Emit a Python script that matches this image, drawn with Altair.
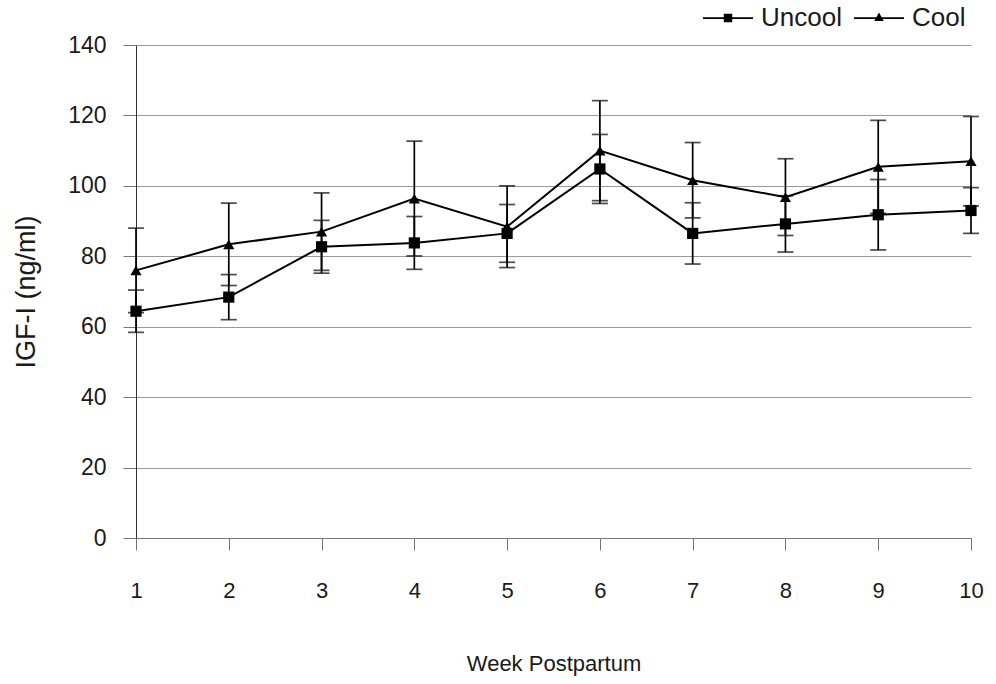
import altair as alt
import pandas as pd

# IGF-I concentration (ng/ml) by week postpartum, mean and error per group
weeks = [1, 2, 3, 4, 5, 6, 7, 8, 9, 10]
uncool_mean = [64.4, 68.4, 82.7, 83.8, 86.5, 104.8, 86.5, 89.2, 91.8, 93.0]
uncool_err = [6.0, 6.4, 7.5, 7.5, 8.2, 9.8, 8.7, 8.0, 10.0, 6.5]
cool_mean = [76.0, 83.4, 87.0, 96.4, 88.4, 110.0, 101.6, 96.8, 105.4, 107.0]
cool_err = [12.0, 11.7, 11.0, 16.3, 11.6, 14.2, 10.7, 10.9, 13.2, 12.7]
groups = ["Uncool", "Cool"]
y_ticks = [0, 20, 40, 60, 80, 100, 120, 140]

rows = []
for g, means, errs in [("Uncool", uncool_mean, uncool_err), ("Cool", cool_mean, cool_err)]:
    for w, m, e in zip(weeks, means, errs):
        rows.append({"week": w, "group": g, "igf": m, "lo": m - e, "hi": m + e})
df = pd.DataFrame(rows)

FONT = "Liberation Sans"
INK = "#1a1a1a"

# legend glyphs: a thin bar (the series line) with the series marker on it
square_glyph = "M-1,-0.035H1V0.035H-1Z M-0.17,-0.17H0.17V0.17H-0.17Z"
triangle_glyph = "M-1,-0.035H1V0.035H-1Z M0,-0.22L0.19,0.12H-0.19Z"

x_enc = alt.X(
    "week:Q",
    scale=alt.Scale(domain=[1, 10], nice=False, zero=False),
    axis=alt.Axis(
        values=weeks, format="d", labelFlush=False, title="Week Postpartum",
        grid=False, tickSize=12, labelPadding=30, titlePadding=52,
        labelFontSize=22, titleFontSize=22, domainColor="#777",
        tickColor="#777", labelColor=INK, titleColor=INK, labelFont=FONT,
        titleFont=FONT, titleFontWeight="normal",
    ),
)
y_scale = alt.Scale(domain=[0, 140], nice=False)
y_axis = alt.Axis(
    values=y_ticks, title="IGF-I (ng/ml)", grid=True, gridColor="#9a9a9a",
    gridWidth=1, tickSize=13, labelPadding=17, titlePadding=27,
    labelFontSize=23, titleFontSize=27, domainColor="#333", tickColor="#777",
    labelColor=INK, titleColor=INK, labelFont=FONT, titleFont=FONT,
    titleFontWeight="normal",
)

base = alt.Chart(df)

lines = base.mark_line(color="black", strokeWidth=2).encode(
    x=x_enc,
    y=alt.Y("igf:Q", scale=y_scale, axis=y_axis),
    detail="group:N",
)

bars = base.mark_rule(color="black", strokeWidth=1.7).encode(
    x="week:Q", y="lo:Q", y2="hi:Q"
)
caps_lo = base.mark_tick(color="black", orient="horizontal", size=16, thickness=1.7).encode(
    x="week:Q", y="lo:Q"
)
caps_hi = base.mark_tick(color="black", orient="horizontal", size=16, thickness=1.7).encode(
    x="week:Q", y="hi:Q"
)

points = base.mark_point(filled=True, size=125, color="black", opacity=1).encode(
    x="week:Q",
    y="igf:Q",
    shape=alt.Shape(
        "group:N",
        scale=alt.Scale(domain=groups, range=["square", "triangle-up"]),
        legend=None,
    ),
)

# key layer: draws nothing itself, only carries the line-and-marker legend
key = base.transform_filter("false").mark_point(filled=True, color="black").encode(
    x="week:Q",
    y="igf:Q",
    shape=alt.Shape(
        "group:N",
        scale=alt.Scale(domain=groups, range=[square_glyph, triangle_glyph]),
        legend=alt.Legend(
            title=None, orient="none", legendX=567, legendY=-52,
            direction="horizontal", symbolSize=2500, symbolStrokeWidth=0,
            symbolFillColor="black", symbolOpacity=1,
            labelFontSize=26, labelFont=FONT, labelColor=INK,
            columnPadding=12, labelOffset=8,
        ),
    ),
)

chart = (
    alt.layer(lines, bars, caps_lo, caps_hi, points, key)
    .resolve_scale(shape="independent")
    .properties(
        width=835, height=493,
        padding={"left": 136, "top": 45, "right": 25, "bottom": 146},
        autosize=alt.AutoSizeParams(type="none"),
        background="white",
    )
    .configure_view(stroke=None)
)

chart.save("out.html", embed_options={"renderer": "svg", "actions": False})
